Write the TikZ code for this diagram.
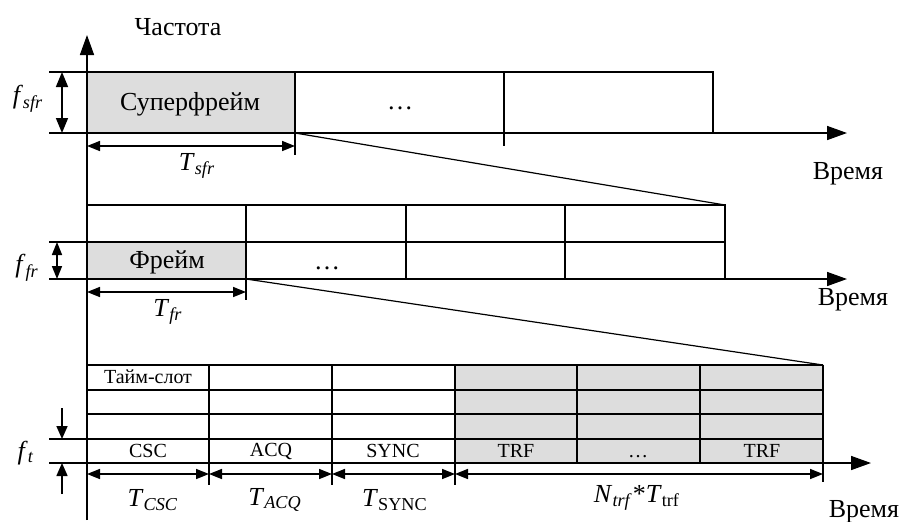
\documentclass[tikz,border=0pt]{standalone}
\usepackage{fontspec}
\setmainfont{Liberation Serif}
\usetikzlibrary{arrows.meta}
\definecolor{ink}{HTML}{000000}
\definecolor{cell}{HTML}{DDDDDD}
\newcommand{\lbl}{\fontsize{13}{15}\selectfont}
\newcommand{\sml}{\fontsize{10}{12}\selectfont}
\newcommand{\fsub}[2]{\textit{#1}\textsubscript{\textit{#2}}}

\begin{document}
\begin{tikzpicture}[x=0.5pt,y=-0.5pt,line width=0.8pt,font=\lbl,draw=ink,
  ax/.style={-{Triangle[length=10pt,width=7pt]}},
  dim/.style={{Triangle[length=6.5pt,width=5pt]}-{Triangle[length=6.5pt,width=5pt]}},
  fdim/.style={{Triangle[length=7.5pt,width=6pt]}-{Triangle[length=7.5pt,width=6pt]}},
  tip/.style={-{Triangle[length=6.5pt,width=5.5pt]}},
  zoomline/.style={line width=0.6pt},
  tag/.style={inner sep=0,text=ink}]
\useasboundingbox (0,0) rectangle (900,521);
% superframe row
\fill[cell] (87,72) rectangle (295,133);
\draw (49,72) -- (713,72) -- (713,133);
\draw (295,72) -- (295,155);
\draw (504,72) -- (504,146);
\coordinate (a1l) at (49,133); \coordinate (a1r) at (847,133);
\draw[ax] (a1l) -- (a1r);
\coordinate (fs0) at (62,72); \coordinate (fs1) at (62,133);
\draw[fdim] (fs0) -- (fs1);
\coordinate (ts0) at (87,146); \coordinate (ts1) at (295,146);
\draw[dim] (ts0) -- (ts1);
\node[tag] (freq) at (178,27) {Частота};
\node[tag] (sframe) at (190,104) {Суперфрейм};
\node[tag] (dots1) at (400,108) {\dots};
\node[tag] (fsfr) at (28,99) {\fsub{f}{sfr}};
\node[tag] (tsfr) at (197,166) {\fsub{T}{sfr}};
\node[tag] (time1) at (848,174) {Время};
% frame rows
\fill[cell] (87,242) rectangle (246,279);
\draw (87,205) -- (725,205) -- (725,279);
\draw (49,242) -- (725,242);
\draw (246,205) -- (246,300);
\draw (406,205) -- (406,279);
\draw (565,205) -- (565,279);
\coordinate (a2l) at (49,279); \coordinate (a2r) at (847,279);
\draw[ax] (a2l) -- (a2r);
\coordinate (ff0) at (57,242); \coordinate (ff1) at (57,279);
\draw[dim] (ff0) -- (ff1);
\coordinate (tf0) at (87,292); \coordinate (tf1) at (246,292);
\draw[dim] (tf0) -- (tf1);
\node[tag] (frame) at (167,262) {Фрейм};
\node[tag] (dots2) at (327,268) {\dots};
\node[tag] (ffr) at (27,268) {\fsub{f}{fr}};
\node[tag] (tfr) at (168,312) {\fsub{T}{fr}};
\node[tag] (time2) at (853,300) {Время};
% zoom lines
\coordinate (sfR) at (295,133); \coordinate (frTR) at (725,205);
\draw[zoomline] (sfR) -- (frTR);
\coordinate (frR) at (246,279); \coordinate (tsTR) at (823,365);
\draw[zoomline] (frR) -- (tsTR);
% time slot rows
\fill[cell] (455,365) rectangle (823,463);
\draw (87,365) -- (823,365);
\draw (87,390) -- (823,390);
\draw (87,414) -- (823,414);
\draw (49,439) -- (823,439);
\draw (209,365) -- (209,485);
\draw (332,365) -- (332,485);
\draw (455,365) -- (455,485);
\draw (577,365) -- (577,463);
\draw (700,365) -- (700,463);
\draw (823,365) -- (823,482);
\coordinate (a3l) at (49,463); \coordinate (a3r) at (871,463);
\draw[ax] (a3l) -- (a3r);
\coordinate (ft0) at (62,408); \coordinate (ft1) at (62,439);
\coordinate (ft2) at (62,494); \coordinate (ft3) at (62,463);
\draw[tip] (ft0) -- (ft1);
\draw[tip] (ft2) -- (ft3);
\coordinate (t0) at (87,474); \coordinate (t1) at (209,474);
\coordinate (t2) at (332,474); \coordinate (t3) at (455,474);
\coordinate (t4) at (823,474);
\draw[dim] (t0) -- (t1);
\draw[dim] (t1) -- (t2);
\draw[dim] (t2) -- (t3);
\draw[dim] (t3) -- (t4);
\node[tag,font=\sml] (slot) at (148,377) {Тайм-слот};
\node[tag,font=\sml] (csc) at (148,451) {CSC};
\node[tag,font=\sml] (acq) at (271,451) {ACQ};
\node[tag,font=\sml] (sync) at (393,451) {SYNC};
\node[tag,font=\sml] (trf1) at (516,451) {TRF};
\node[tag,font=\sml] (dots3) at (638,457) {\dots};
\node[tag,font=\sml] (trf2) at (762,451) {TRF};
\node[tag] (ft) at (26,453) {\fsub{f}{t}};
\node[tag] (tcsc) at (153,500) {\fsub{T}{CSC}};
\node[tag] (tacq) at (275,500) {\fsub{T}{ACQ}};
\node[tag] (tsync) at (395,500) {\textit{T}\textsubscript{SYNC}};
\node[tag] (ntrf) at (637,498) {\fsub{N}{trf}*\textit{T}\textsubscript{trf}};
\node[tag] (time3) at (864,512) {Время};
% frequency axis
\coordinate (o) at (87,520); \coordinate (fy) at (87,35);
\draw[ax] (o) -- (fy);
\end{tikzpicture}
\end{document}
